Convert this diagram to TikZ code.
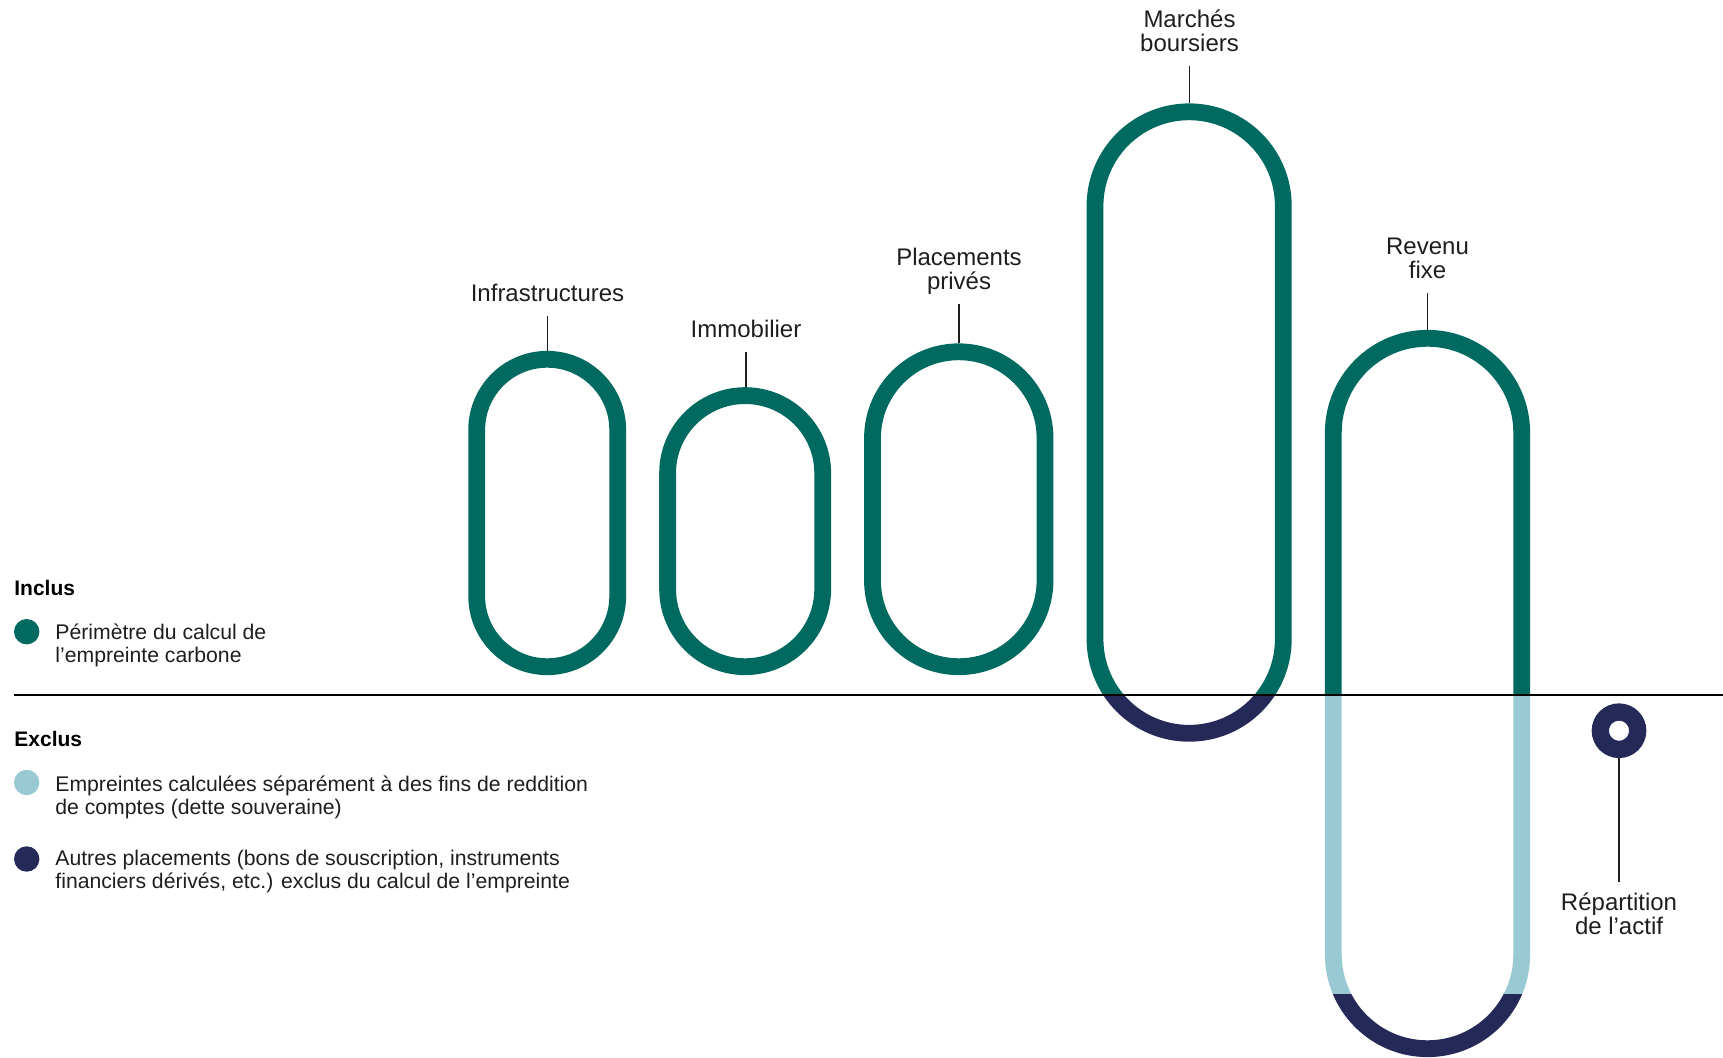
\documentclass[tikz,border=0pt]{standalone}
\usepackage{fontspec}
\setmainfont{Liberation Sans}
\usepackage{tikz}
\usetikzlibrary{positioning,calc}

\definecolor{vertpin}{HTML}{006A60}
\definecolor{bleuciel}{HTML}{99CAD3}
\definecolor{marine}{HTML}{252957}
\definecolor{encre}{HTML}{1E1E1E}

\begin{document}
\begin{tikzpicture}[x=0.5pt,y=-0.5pt,
    boucle/.style={line width=8.4pt},
    lab/.style={font=\fontsize{12}{12}\selectfont, align=center, inner sep=0pt, text depth=0pt, anchor=south, text=encre},
    leg/.style={font=\fontsize{10.6}{11.6}\selectfont, align=left, inner sep=0pt, text depth=0pt, anchor=south west, text=encre},
    titre/.style={font=\fontsize{10.5}{10.5}\selectfont\bfseries, inner sep=0pt, anchor=base west, text=black},
    pastille/.style={circle, inner sep=0pt, minimum size=12.7pt},
    trait/.style={draw=encre, line width=0.75pt, shorten <=7pt}]
    \useasboundingbox (0,0) rectangle (1723,1058);

    % Infrastructures
    \coordinate (infraA) at (476.7,359.3);
    \coordinate (infraB) at (617.7,666.7);
    \draw[boucle, draw=vertpin, rounded corners=35.25pt] (infraA) rectangle (infraB);
    \coordinate (infratop) at (547.5,351);
    \node[lab] (infra) at (547.5,301.7) {Infrastructures};
    \draw[trait] (infra) -- (infratop);

    % Immobilier
    \coordinate (immoA) at (667.6,395.6);
    \coordinate (immoB) at (822.7,666.7);
    \draw[boucle, draw=vertpin, rounded corners=38.78pt] (immoA) rectangle (immoB);
    \coordinate (immotop) at (746,387.3);
    \node[lab] (immo) at (746,338.3) {Immobilier};
    \draw[trait] (immo) -- (immotop);

    % Placements prives
    \coordinate (ppA) at (872.5,351.8);
    \coordinate (ppB) at (1045,666.7);
    \draw[boucle, draw=vertpin, rounded corners=43.13pt] (ppA) rectangle (ppB);
    \coordinate (pptop) at (959,343.3);
    \node[lab] (pp) at (959,290) {Placements\\privés};
    \draw[trait] (pp) -- (pptop);

    % Marches boursiers
    \coordinate (mbA) at (1095,111.8);
    \coordinate (mbB) at (1283.3,733.3);
    \begin{scope}
        \clip (0,0) rectangle (1723,694.7);
        \draw[boucle, draw=vertpin, rounded corners=47.08pt] (mbA) rectangle (mbB);
    \end{scope}
    \begin{scope}
        \clip (0,694.7) rectangle (1723,1058);
        \draw[boucle, draw=marine, rounded corners=47.08pt] (mbA) rectangle (mbB);
    \end{scope}
    \coordinate (mbtop) at (1189.5,103.3);
    \node[lab] (mb) at (1189.5,51.7) {Marchés\\boursiers};
    \draw[trait] (mb) -- (mbtop);

    % Revenu fixe
    \coordinate (rfA) at (1333.3,338.3);
    \coordinate (rfB) at (1521.7,1048.7);
    \begin{scope}
        \clip (0,0) rectangle (1723,694.7);
        \draw[boucle, draw=vertpin, rounded corners=47.1pt] (rfA) rectangle (rfB);
    \end{scope}
    \begin{scope}
        \clip (0,694.7) rectangle (1723,994.3);
        \draw[boucle, draw=bleuciel, rounded corners=47.1pt] (rfA) rectangle (rfB);
    \end{scope}
    \begin{scope}
        \clip (0,994.3) rectangle (1723,1058);
        \draw[boucle, draw=marine, rounded corners=47.1pt] (rfA) rectangle (rfB);
    \end{scope}
    \coordinate (rftop) at (1427.5,330);
    \node[lab] (rf) at (1427.5,279.3) {Revenu\\fixe};
    \draw[trait] (rf) -- (rftop);

    % Repartition de l'actif
    \node[circle, draw=marine, line width=8.65pt, minimum size=18.67pt, inner sep=0pt] (anneau) at (1619,730.7) {};
    \coordinate (repbas) at (1619,882);
    \draw[trait, shorten <=0pt] (anneau) -- (repbas);
    \node[lab] (repart) at (1619,935) {Répartition\\de l’actif};

    % Legende
    \node[titre] (inclus) at (14,596) {Inclus};
    \node[pastille, fill=vertpin] (dotincl) at (26.7,631.7) {};
    \node[leg] (perim) at (55,663) {Périmètre du calcul de\\l’empreinte carbone};

    \node[titre] (exclus) at (14,746.7) {Exclus};
    \node[pastille, fill=bleuciel] (dotsouv) at (26.7,782.5) {};
    \node[leg] (souv) at (55,815) {Empreintes calculées séparément à des fins de reddition\\de comptes (dette souveraine)};
    \node[pastille, fill=marine] (dotautre) at (26.7,859) {};
    \node[leg] (autre) at (55,889) {Autres placements (bons de souscription, instruments\\financiers dérivés, etc.) exclus du calcul de l’empreinte};

    % Separation
    \coordinate (sepg) at (14,694.7);
    \coordinate (sepd) at (1723,694.7);
    \draw[line width=0.9pt, black] (sepg) -- (sepd);
\end{tikzpicture}
\end{document}
